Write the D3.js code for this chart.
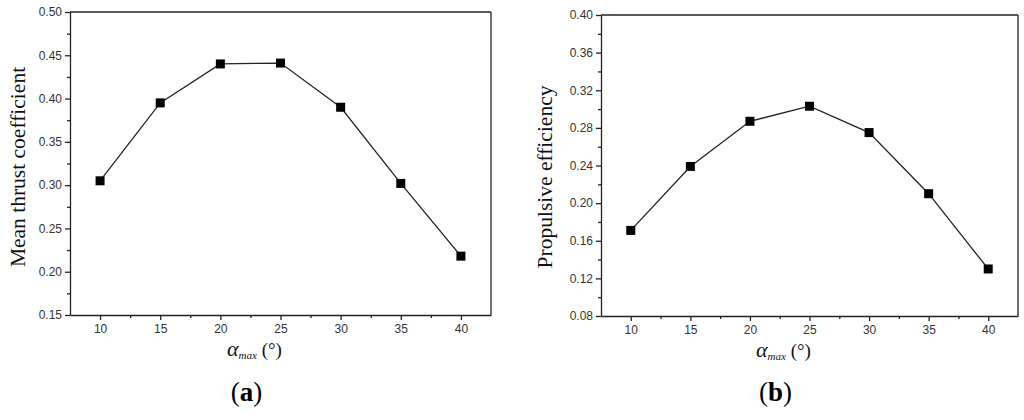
<!DOCTYPE html>
<html>
<head>
<meta charset="utf-8">
<script src="https://cdn.jsdelivr.net/npm/d3@7"></script>
<style>
  body { margin: 0; background: #fff; }
  svg text { font-family: "Liberation Sans", Arial, sans-serif; }
</style>
</head>
<body>
<div id="chart"></div>
<script>
// data
var alphaMax = [10, 15, 20, 25, 30, 35, 40];
var thrustCoef = [0.305, 0.395, 0.440, 0.441, 0.390, 0.302, 0.218];
var propEff = [0.171, 0.239, 0.287, 0.303, 0.275, 0.210, 0.130];
var xTicks = [10, 15, 20, 25, 30, 35, 40];
var yTicksA = [0.15, 0.20, 0.25, 0.30, 0.35, 0.40, 0.45, 0.50];
var yTicksB = [0.08, 0.12, 0.16, 0.20, 0.24, 0.28, 0.32, 0.36, 0.40];

const w = 1024;
const h = 420;

const svg = d3.select("#chart")
    .append("svg")
    .attr("width", w)
    .attr("height", h);

function drawPanel(opts) {
    const left = opts.left, right = opts.right, top = opts.top, bottom = opts.bottom;

    const xScale = d3.scaleLinear()
        .domain([7.5, 42.5])
        .range([left, right]);

    const yScale = d3.scaleLinear()
        .domain([opts.yTicks[0], opts.yTicks[opts.yTicks.length - 1]])
        .range([bottom, top]);

    const g = svg.append("g");

    // minor ticks
    var xMinor = xTicks.slice(0, -1).map(d => d + 2.5);
    var yMinor = opts.yTicks.slice(0, -1).map((d, i) => (d + opts.yTicks[i + 1]) / 2);

    g.append("g")
        .attr("transform", "translate(0," + bottom + ")")
        .call(d3.axisBottom(xScale).tickValues(xMinor).tickSize(3).tickFormat(""))
        .call(a => a.select(".domain").remove());

    g.append("g")
        .attr("transform", "translate(" + left + ",0)")
        .call(d3.axisLeft(yScale).tickValues(yMinor).tickSize(3).tickFormat(""))
        .call(a => a.select(".domain").remove());

    // main axes
    const xAxis = d3.axisBottom(xScale).tickValues(xTicks).tickSize(5).tickSizeOuter(0).tickPadding(4);
    const yAxis = d3.axisLeft(yScale).tickValues(opts.yTicks).tickSize(5).tickSizeOuter(0)
        .tickPadding(3).tickFormat(d3.format(".2f"));

    g.append("g")
        .attr("transform", "translate(0," + bottom + ")")
        .call(xAxis);

    g.append("g")
        .attr("transform", "translate(" + left + ",0)")
        .call(yAxis);

    g.selectAll(".tick text")
        .attr("font-size", 12)
        .attr("fill", "#333");
    g.selectAll(".domain, .tick line")
        .attr("stroke", "#222")
        .attr("stroke-width", 1.3);

    // frame top and right
    g.append("line")
        .attr("x1", left).attr("x2", right)
        .attr("y1", top).attr("y2", top)
        .attr("stroke", "#222").attr("stroke-width", 1.3);
    g.append("line")
        .attr("x1", right).attr("x2", right)
        .attr("y1", top).attr("y2", bottom)
        .attr("stroke", "#222").attr("stroke-width", 1.3);

    // line
    const line = d3.line()
        .x((d, i) => xScale(alphaMax[i]))
        .y(d => yScale(d));

    g.append("path")
        .datum(opts.values)
        .attr("fill", "none")
        .attr("stroke", "#222")
        .attr("stroke-width", 1.3)
        .attr("d", line);

    g.selectAll("rect.pt")
        .data(opts.values)
        .enter()
        .append("rect")
        .attr("class", "pt")
        .attr("x", (d, i) => xScale(alphaMax[i]) - 4.5)
        .attr("y", d => yScale(d) - 4.5)
        .attr("width", 9)
        .attr("height", 9)
        .attr("fill", "#000");

    // y title
    g.append("text")
        .attr("transform", "translate(" + opts.yTitleX + "," + opts.yTitleY + ") rotate(-90)")
        .attr("text-anchor", "middle")
        .style("font-family", "'Liberation Serif', 'Times New Roman', serif")
        .attr("font-size", 21.5)
        .attr("fill", "#111")
        .text(opts.yTitle);

    // x title
    const xt = g.append("text")
        .attr("x", (left + right) / 2 - 26)
        .attr("y", bottom + 41)
        .attr("text-anchor", "middle")
        .style("font-family", "'Liberation Serif', 'Times New Roman', serif")
        .attr("fill", "#111");
    xt.append("tspan").attr("font-size", 22).attr("font-style", "italic").text("α");
    xt.append("tspan").attr("font-size", 11).attr("font-style", "italic").attr("dy", 3).text("max");
    xt.append("tspan").attr("font-size", 19).attr("dy", -3).text(" (°)");

    // panel letter
    const pl = g.append("text")
        .attr("x", (left + right) / 2 - 34)
        .attr("y", 401)
        .attr("text-anchor", "middle")
        .style("font-family", "'Liberation Serif', 'Times New Roman', serif")
        .attr("font-size", 27)
        .attr("fill", "#000");
    pl.append("tspan").text("(");
    pl.append("tspan").attr("font-weight", "bold").text(opts.letter);
    pl.append("tspan").text(")");
}

drawPanel({
    left: 70, right: 491, top: 12, bottom: 315,
    yTicks: yTicksA, values: thrustCoef,
    yTitle: "Mean thrust coefficient", yTitleX: 25, yTitleY: 167, letter: "a"
});

drawPanel({
    left: 601, right: 1018, top: 15, bottom: 316,
    yTicks: yTicksB, values: propEff,
    yTitle: "Propulsive efficiency", yTitleX: 552, yTitleY: 177, letter: "b"
});
</script>
</body>
</html>
